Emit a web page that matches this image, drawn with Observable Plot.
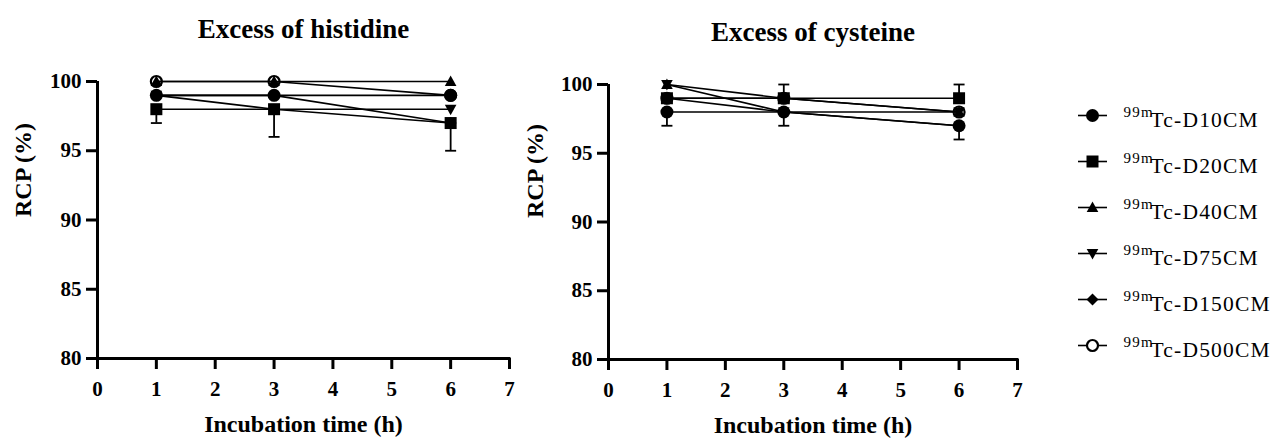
<!DOCTYPE html>
<html>
<head>
<meta charset="utf-8">
<script src="https://cdn.jsdelivr.net/npm/d3@7"></script>
<script src="https://cdn.jsdelivr.net/npm/@observablehq/plot@0.6"></script>
<style>
  html, body { margin: 0; padding: 0; background: #fff; }
  #wrap { position: relative; width: 1274px; height: 441px; overflow: hidden; }
  .panel { position: absolute; top: 0; }
</style>
</head>
<body>
<div id="wrap">
  <div class="panel" id="left" style="left:0px"></div>
  <div class="panel" id="right" style="left:520px"></div>
  <div class="panel" id="legend" style="left:1040px"></div>
</div>
<script>
// ---------- data ----------
const times = [1, 3, 6];
const series = ["D10CM", "D20CM", "D40CM", "D75CM", "D150CM", "D500CM"];
const xTicks = [0, 1, 2, 3, 4, 5, 6, 7];
const yTicks = [80, 85, 90, 95, 100];

// Excess of histidine: RCP (%) at 1, 3, 6 h
const histD10 = [99, 99, 99];
const histD20 = [98, 98, 97];
const histD40 = [100, 100, 100];
const histD75 = [99, 98, 98];
const histD150 = [99, 99, 97];
const histD500 = [100, 100, 99];

// Excess of cysteine
const cysD10 = [98, 98, 97];
const cysD20 = [99, 99, 99];
const cysD40 = [100, 99, 98];
const cysD75 = [100, 98, 98];
const cysD150 = [99, 98, 97];
const cysD500 = [99, 99, 98];

// error bars (visible parts): series, time, mean, end
const histErrSeries = ["D20CM", "D20CM", "D20CM"];
const histErrTime = [1, 3, 6];
const histErrMean = [98, 98, 97];
const histErrEnd = [97, 96, 95];

const cysErrSeries = ["D10CM", "D10CM", "D20CM", "D20CM", "D10CM"];
const cysErrTime = [1, 3, 3, 6, 6];
const cysErrMean = [98, 98, 99, 99, 97];
const cysErrEnd = [97, 97, 100, 100, 96];

// ---------- build tables ----------
function table(cols) {
  const out = [];
  series.forEach((s, i) => cols[i].forEach((v, j) => out.push({s, t: times[j], v})));
  return out;
}
function errTable(S, T, M, E) {
  return S.map((s, i) => ({s, t: T[i], m: M[i], e: E[i]}));
}
const histData = table([histD10, histD20, histD40, histD75, histD150, histD500]);
const cysData = table([cysD10, cysD20, cysD40, cysD75, cysD150, cysD500]);
const histErr = errTable(histErrSeries, histErrTime, histErrMean, histErrEnd);
const cysErr = errTable(cysErrSeries, cysErrTime, cysErrMean, cysErrEnd);

// ---------- symbols ----------
const symCircle = {draw(c) { c.moveTo(6.5, 0); c.arc(0, 0, 6.5, 0, 2 * Math.PI); }};
const symSquare = {draw(c) { c.rect(-6, -6, 12, 12); }};
const symTriUp = {draw(c) { c.moveTo(0, -6); c.lineTo(5.8, 4.5); c.lineTo(-5.8, 4.5); c.closePath(); }};
const symTriDown = {draw(c) { c.moveTo(0, 6); c.lineTo(5.8, -4.5); c.lineTo(-5.8, -4.5); c.closePath(); }};
const symDiamond = {draw(c) { c.moveTo(0, -6); c.lineTo(6, 0); c.lineTo(0, 6); c.lineTo(-6, 0); c.closePath(); }};
const symOpen = {draw(c) { c.moveTo(5.5, 0); c.arc(0, 0, 5.5, 0, 2 * Math.PI); }};
const symCap = {draw(c) { c.moveTo(-5.5, 0); c.lineTo(5.5, 0); }};
const symMap = {D10CM: symCircle, D20CM: symSquare, D40CM: symTriUp, D75CM: symTriDown, D150CM: symDiamond, D500CM: symOpen};

const FONT = "'Liberation Serif', 'Times New Roman', serif";

function panel(data, err, title, opts) {
  const filled = data.filter(d => d.s !== "D500CM");
  const open = data.filter(d => d.s === "D500CM");
  return Plot.plot({
    width: 520,
    height: 441,
    marginLeft: opts.ml,
    marginRight: opts.mr,
    marginTop: opts.mt,
    marginBottom: opts.mb,
    style: {fontFamily: FONT, fontSize: "21px", fontWeight: "bold", color: "#000", background: "#fff", overflow: "visible"},
    x: {domain: [0, 7]},
    y: {domain: [80, 100]},
    marks: [
      Plot.axisX({ticks: xTicks, tickFormat: d => String(d), tickSize: 11, tickPadding: 12, strokeWidth: 3, label: null, fontSize: 21}),
      Plot.axisY({ticks: yTicks, tickFormat: d => String(d), tickSize: 11, tickPadding: 5, strokeWidth: 3, label: null, fontSize: 21}),
      Plot.ruleY([80], {strokeWidth: 3, strokeLinecap: "square"}),
      Plot.ruleX([0], {y1: 80, y2: 100, strokeWidth: 3}),
      Plot.ruleX(err, {x: "t", y1: "m", y2: "e", strokeWidth: 1.8, stroke: "#000"}),
      Plot.dot(err, {x: "t", y: "e", symbol: () => symCap, stroke: "#000", strokeWidth: 1.8, fill: "none"}),
      Plot.line(data, {x: "t", y: "v", z: "s", stroke: "#000", strokeWidth: 1.6}),
      Plot.dot(filled, {x: "t", y: "v", symbol: d => symMap[d.s], fill: "#000", stroke: "none"}),
      Plot.dot(open, {x: "t", y: "v", symbol: d => symMap[d.s], fill: "none", stroke: "#000", strokeWidth: 2.2}),
      Plot.text([title], {frameAnchor: "top", dy: opts.titleDy, lineAnchor: "bottom", fontSize: 27, fontWeight: "bold"}),
      Plot.text(["Incubation time (h)"], {frameAnchor: "bottom", dy: 73, lineAnchor: "bottom", fontSize: 24, fontWeight: "bold"}),
      Plot.text(["RCP (%)"], {frameAnchor: "left", dx: opts.ylabDx, dy: opts.ylabDy, rotate: -90, lineAnchor: "middle", fontSize: 24, fontWeight: "bold"})
    ]
  });
}

document.getElementById("left").appendChild(
  panel(histData, histErr, "Excess of histidine", {ml: 97, mr: 11, mt: 81, mb: 83, titleDy: -44, ylabDx: -74, ylabDy: -3})
);
document.getElementById("right").appendChild(
  panel(cysData, cysErr, "Excess of cysteine", {ml: 88, mr: 23, mt: 84, mb: 82, titleDy: -44, ylabDx: -73, ylabDy: -4})
);

// ---------- legend ----------
const legendRows = series.map(s => ({s, sup: "99m", name: "Tc-" + s}));
const legend = Plot.plot({
  width: 234,
  height: 441,
  margin: 0,
  style: {fontFamily: FONT, color: "#000", background: "#fff", overflow: "visible", letterSpacing: "1.2px"},
  x: {type: "identity", axis: null},
  y: {type: "point", domain: series, range: [113, 346], padding: 0, axis: null},
  marks: [
    Plot.ruleY(legendRows, {y: "s", x1: 38, x2: 67, stroke: "#000", strokeWidth: 1.6}),
    Plot.dot(legendRows.filter(d => d.s !== "D500CM"), {x: 52, y: "s", symbol: d => symMap[d.s], fill: "#000", stroke: "none"}),
    Plot.dot(legendRows.filter(d => d.s === "D500CM"), {x: 52, y: "s", symbol: d => symMap[d.s], fill: "#fff", stroke: "#000", strokeWidth: 2.2}),
    Plot.text(legendRows, {x: 83, y: "s", text: "sup", dy: 1, lineAnchor: "bottom", textAnchor: "start", fontSize: 15}),
    Plot.text(legendRows, {x: 110, y: "s", text: "name", dy: 11, lineAnchor: "bottom", textAnchor: "start", fontSize: 21.5})
  ]
});
document.getElementById("legend").appendChild(legend);
</script>
</body>
</html>
